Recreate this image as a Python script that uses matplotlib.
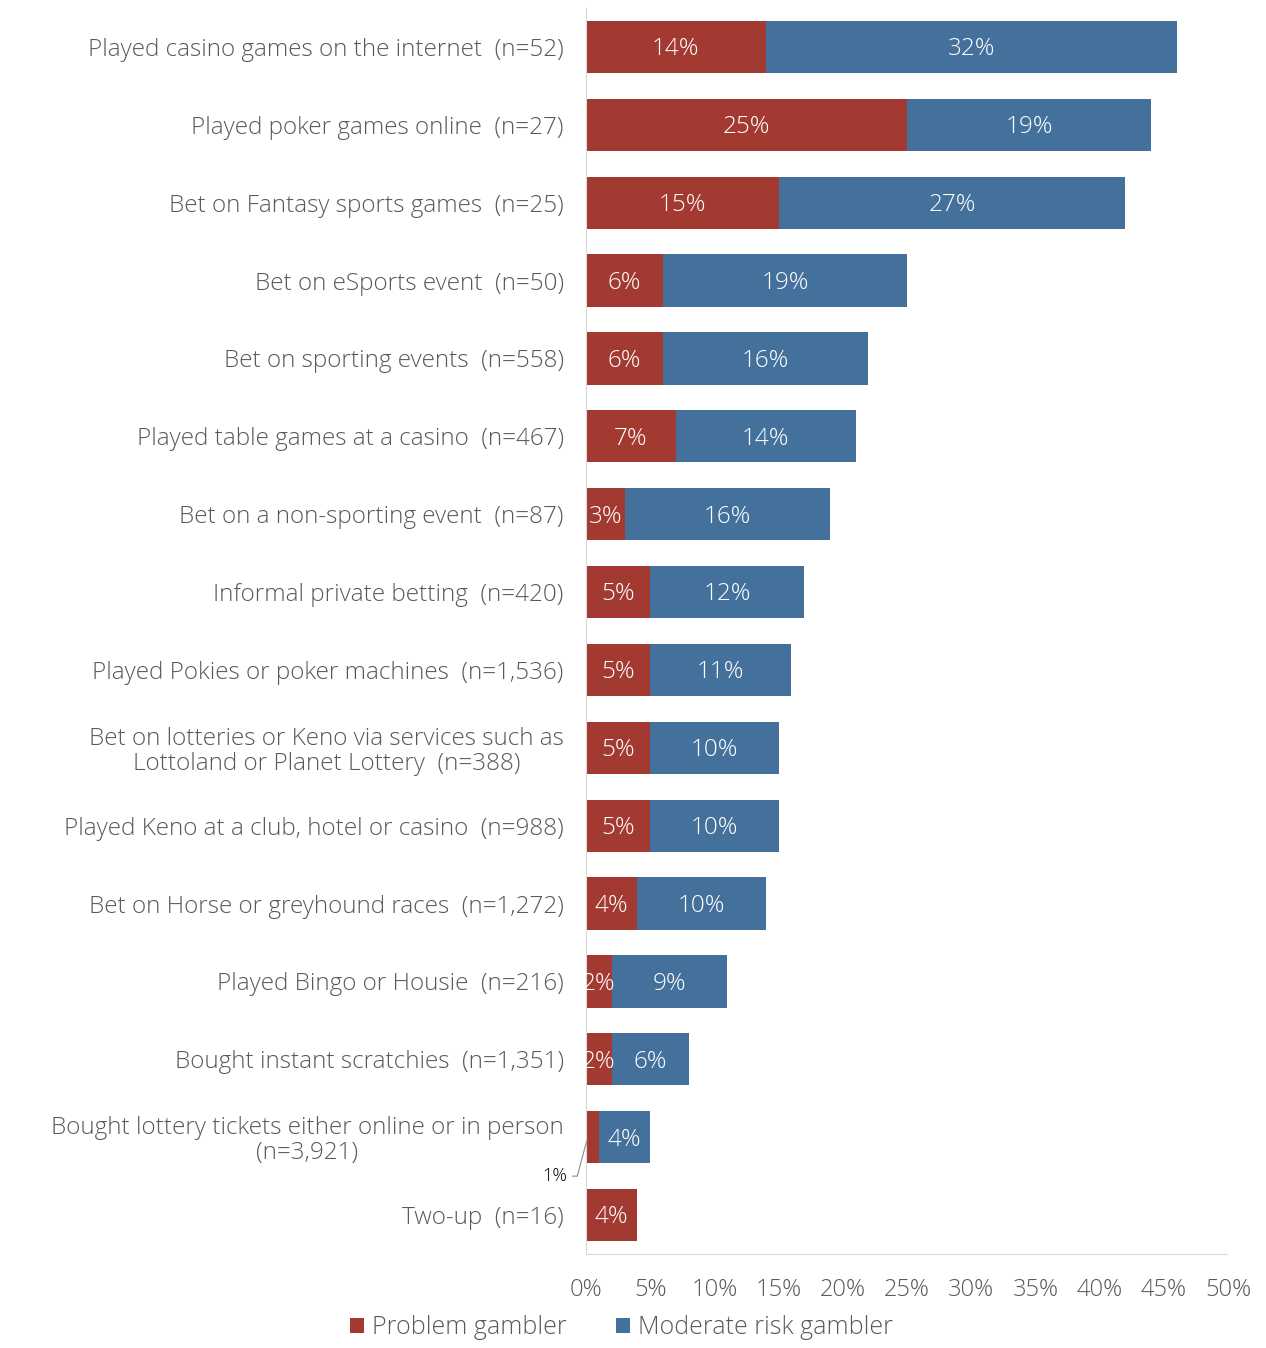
import matplotlib
matplotlib.use("Agg")
import matplotlib.pyplot as plt
import numpy as np

plt.rcParams['font.family'] = ['Open Sans', 'DejaVu Sans']
plt.rcParams['font.weight'] = 'light'

categories = [
    "Played casino games on the internet  (n=52)",
    "Played poker games online  (n=27)",
    "Bet on Fantasy sports games  (n=25)",
    "Bet on eSports event  (n=50)",
    "Bet on sporting events  (n=558)",
    "Played table games at a casino  (n=467)",
    "Bet on a non-sporting event  (n=87)",
    "Informal private betting  (n=420)",
    "Played Pokies or poker machines  (n=1,536)",
    "Bet on lotteries or Keno via services such as\nLottoland or Planet Lottery  (n=388)",
    "Played Keno at a club, hotel or casino  (n=988)",
    "Bet on Horse or greyhound races  (n=1,272)",
    "Played Bingo or Housie  (n=216)",
    "Bought instant scratchies  (n=1,351)",
    "Bought lottery tickets either online or in person\n(n=3,921)",
    "Two-up  (n=16)",
]
problem = [14, 25, 15, 6, 6, 7, 3, 5, 5, 5, 5, 4, 2, 2, 1, 4]
moderate = [32, 19, 27, 19, 16, 14, 16, 12, 11, 10, 10, 10, 9, 6, 4, 0]
x_ticks = [0, 5, 10, 15, 20, 25, 30, 35, 40, 45, 50]

RED = "#A23A32"
BLUE = "#44709C"
GREY = "#595959"

fig = plt.figure(figsize=(12.66, 13.48), dpi=100)
ax = fig.add_axes([586 / 1266, 1 - 1254 / 1348, 642 / 1266, 1246 / 1348])

y = np.arange(len(categories))
h = 0.67
ax.barh(y, problem, height=h, color=RED, label="Problem gambler")
ax.barh(y, moderate, left=problem, height=h, color=BLUE,
        label="Moderate risk gambler")

fs = 17.5
for i, (p, m) in enumerate(zip(problem, moderate)):
    if p >= 2:
        ax.text(p / 2, i + 0.03, f"{p}%", ha="center", va="center",
                color="white", fontsize=fs)
    elif p > 0:
        # too narrow to hold its label: put it outside with a leader line
        ax.annotate(f"{p}%", xy=(0.05, i + 0.05), xytext=(-1.5, i + 0.5),
                    ha="right", va="center", fontsize=fs - 4.5, color="black",
                    annotation_clip=False,
                    arrowprops=dict(arrowstyle="-", color="#8c8c8c", lw=0.8,
                                    shrinkA=2, shrinkB=0,
                                    connectionstyle="angle,angleA=0,angleB=75,rad=0"))
    if m > 0:
        ax.text(p + m / 2, i + 0.03, f"{m}%", ha="center", va="center",
                color="white", fontsize=fs)

ax.set_ylim(len(categories) - 0.5, -0.5)
ax.set_xlim(0, 50)
ax.set_yticks(y)
ax.set_yticklabels(categories, fontsize=fs, color=GREY, ha="right",
                   multialignment="center", linespacing=1.05)
ax.set_xticks(x_ticks)
ax.set_xticklabels([f"{t}%" for t in x_ticks], fontsize=fs - 0.5, color=GREY)
ax.tick_params(axis="both", length=0)
ax.tick_params(axis="y", pad=16)
ax.tick_params(axis="x", pad=17)

for side in ("top", "right"):
    ax.spines[side].set_visible(False)
ax.spines["left"].set_color("#d9d9d9")
ax.spines["bottom"].set_color("#d9d9d9")
ax.spines["bottom"].set_linestyle((0, (1, 1)))

fig.legend(loc="lower center", bbox_to_anchor=(0.491, -0.011), ncol=2,
           frameon=False, fontsize=fs + 0.5, handlelength=0.55,
           handleheight=0.55, handletextpad=0.3, columnspacing=2.0,
           labelcolor=GREY)

fig.savefig("out.png", dpi=100)
